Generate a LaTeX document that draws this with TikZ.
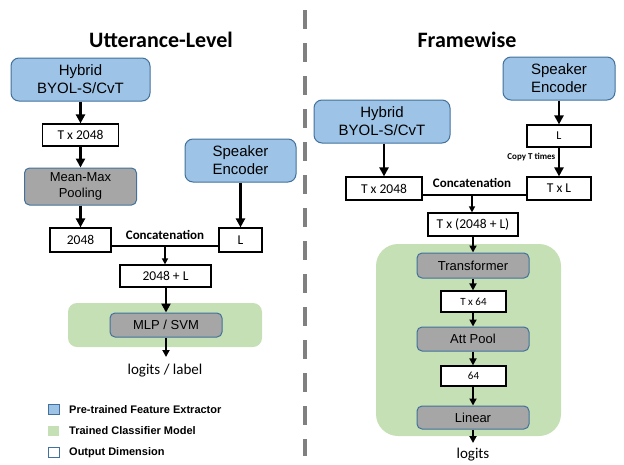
\documentclass[tikz,border=0pt]{standalone}
\usepackage{fontspec}
\setmainfont{Carlito}
\newfontfamily\arialf{Liberation Sans}
\usetikzlibrary{arrows.meta}
\definecolor{blueF}{HTML}{9DC3E6}
\definecolor{blueB}{HTML}{41719C}
\definecolor{grayF}{HTML}{A6A6A6}
\definecolor{greenF}{HTML}{C5E0B4}
\definecolor{divG}{HTML}{808080}
\tikzset{
  bluebox/.style={draw=blueB, line width=1pt, fill=blueF, rounded corners=8pt, inner sep=0pt, align=center,
    font=\arialf\fontsize{15}{18}\selectfont},
  graybox/.style={draw=blueB, line width=1pt, fill=grayF, rounded corners=5pt, inner sep=0pt, align=center,
    font=\arialf\fontsize{13}{15.5}\selectfont},
  dimbox/.style={draw=black, line width=1.2pt, fill=white, inner sep=0pt, align=center,
    font=\fontsize{13.5}{16}\selectfont},
  smalldim/.style={dimbox, font=\fontsize{11}{13}\selectfont},
  greenbox/.style={fill=greenF, draw=none, inner sep=0pt},
  thickarr/.style={line width=2.8pt, -{Triangle[length=9pt,width=9pt]}},
  medarr/.style={line width=1.8pt, -{Triangle[length=7pt,width=7pt]}},
  thinarr/.style={line width=1.4pt, -{Triangle[length=6pt,width=6pt]}},
  thinline/.style={line width=1.6pt},
  titletext/.style={font=\bfseries\fontsize{22}{26}\selectfont},
  concattext/.style={font=\bfseries\fontsize{13}{15}\selectfont},
  legtext/.style={font=\arialf\bfseries\fontsize{11}{13}\selectfont, anchor=west, inner sep=0pt},
  legsq/.style={minimum width=11pt, minimum height=10pt, inner sep=0pt},
}
\begin{document}
\begin{tikzpicture}[x=1pt,y=-1pt]
\useasboundingbox (0,0) rectangle (624,464);

% divider
\draw[divG, line width=4.5pt, dash pattern=on 19pt off 14pt] (305,10) coordinate (dv1) -- (305,456) coordinate (dv2);

% ===== Left: Utterance-Level =====
\node[titletext] (titleL) at (161,40) {Utterance-Level};
\node[bluebox, minimum width=139pt, minimum height=43pt] (hybL) at (80.5,79.5) {Hybrid\\BYOL-S/CvT};
\node[dimbox, minimum width=76pt, minimum height=22pt] (d1L) at (80.5,135) {T x 2048};
\node[graybox, minimum width=112pt, minimum height=37pt] (mmp) at (80.5,186.5) {Mean-Max\\Pooling};
\node[bluebox, minimum width=111pt, minimum height=43pt] (spkL) at (240.5,160.5) {Speaker\\Encoder};
\node[dimbox, minimum width=61pt, minimum height=24pt] (d2L) at (80.5,240) {2048};
\node[dimbox, minimum width=43pt, minimum height=24pt] (dLL) at (240.5,240) {L};
\node[concattext] (catL) at (165,235) {Concatenation};
\coordinate (cL) at (165,246);
\node[dimbox, minimum width=91pt, minimum height=22pt] (dSum) at (165.5,276) {2048 + L};
\node[greenbox, rounded corners=9pt, minimum width=194pt, minimum height=44pt] (grL) at (165,325) {};
\node[graybox, minimum width=112pt, minimum height=24pt] (mlp) at (166,325) {MLP / SVM};
\node[font=\fontsize{15}{18}\selectfont] (logL) at (165,371) {logits / label};
\coordinate (logLtop) at (166,357);

\draw[thickarr] (hybL.south) -- (d1L.north);
\draw[thickarr] (d1L.south) -- (mmp.north);
\draw[thickarr] (mmp.south) -- (d2L.north);
\draw[thickarr] (spkL.south) -- (dLL.north);
\draw[thinline] (d2L.east |- cL) -- (dLL.west |- cL);
\draw[thinarr] (cL) -- (dSum.north -| cL);
\draw[thickarr] (dSum.south -| mlp.north) -- (mlp.north);
\draw[medarr] (mlp.south) -- (logLtop);

% legend
\node[legsq, fill=blueF, draw=blueB, line width=1pt] (lg1) at (53.5,409.5) {};
\node[legsq, fill=greenF] (lg2) at (53.5,431) {};
\node[legsq, fill=white, draw=blueB, line width=1pt] (lg3) at (53.5,452.5) {};
\node[legtext] (lt1) at (69,409.5) {Pre-trained Feature Extractor};
\node[legtext] (lt2) at (69,431) {Trained Classifier Model};
\node[legtext] (lt3) at (69,452.5) {Output Dimension};

% ===== Right: Framewise =====
\node[titletext] (titleR) at (467,40) {Framewise};
\node[bluebox, minimum width=112pt, minimum height=43pt] (spkR) at (559,78.5) {Speaker\\Encoder};
\node[bluebox, minimum width=136pt, minimum height=43pt] (hybR) at (382,121.5) {Hybrid\\BYOL-S/CvT};
\node[dimbox, minimum width=64pt, minimum height=22pt, font=\fontsize{12}{14}\selectfont] (dLR) at (559,136) {L};
\node[font=\bfseries\fontsize{9}{11}\selectfont, anchor=east, inner sep=0pt] (copyT) at (555.5,157) {Copy T times};
\node[dimbox, minimum width=64pt, minimum height=23pt] (dTL) at (559,188.5) {T x L};
\node[dimbox, minimum width=76pt, minimum height=23pt] (d1R) at (384,188.5) {T x 2048};
\node[concattext] (catR) at (472,183) {Concatenation};
\coordinate (cR) at (472,195);
\node[dimbox, minimum width=90pt, minimum height=23pt] (dTS) at (473,224.5) {T x (2048 + L)};
\node[greenbox, rounded corners=22pt, minimum width=185pt, minimum height=192pt] (grR) at (468.5,340) {};
\node[graybox, minimum width=112pt, minimum height=25pt] (trans) at (473,265.5) {Transformer};
\node[smalldim, minimum width=65pt, minimum height=21pt] (d64T) at (473.5,301.5) {T x 64};
\node[graybox, minimum width=112pt, minimum height=24pt] (att) at (473,339) {Att Pool};
\node[smalldim, minimum width=65pt, minimum height=20pt] (d64) at (473.5,376) {64};
\node[graybox, minimum width=112pt, minimum height=23pt] (lin) at (473,417.5) {Linear};
\node[font=\fontsize{15}{18}\selectfont, inner sep=1pt] (logR) at (473,454.5) {logits};
\coordinate (logRtop) at (473,443);

\draw[thickarr] (spkR.south) -- (dLR.north);
\draw[thickarr] (dLR.south) -- (dTL.north);
\draw[thickarr] (hybR.south -| d1R.north) -- (d1R.north);
\draw[thinline] (d1R.east |- cR) -- (dTL.west |- cR);
\draw[thinarr] (cR) -- (dTS.north -| cR);
\draw[medarr] (dTS.south) -- (trans.north);
\draw[medarr] (trans.south) -- (d64T.north -| trans.south);
\draw[medarr] (d64T.south -| att.north) -- (att.north);
\draw[medarr] (att.south) -- (d64.north -| att.south);
\draw[medarr] (d64.south -| lin.north) -- (lin.north);
\draw[medarr] (lin.south) -- (logRtop);
\end{tikzpicture}
\end{document}
